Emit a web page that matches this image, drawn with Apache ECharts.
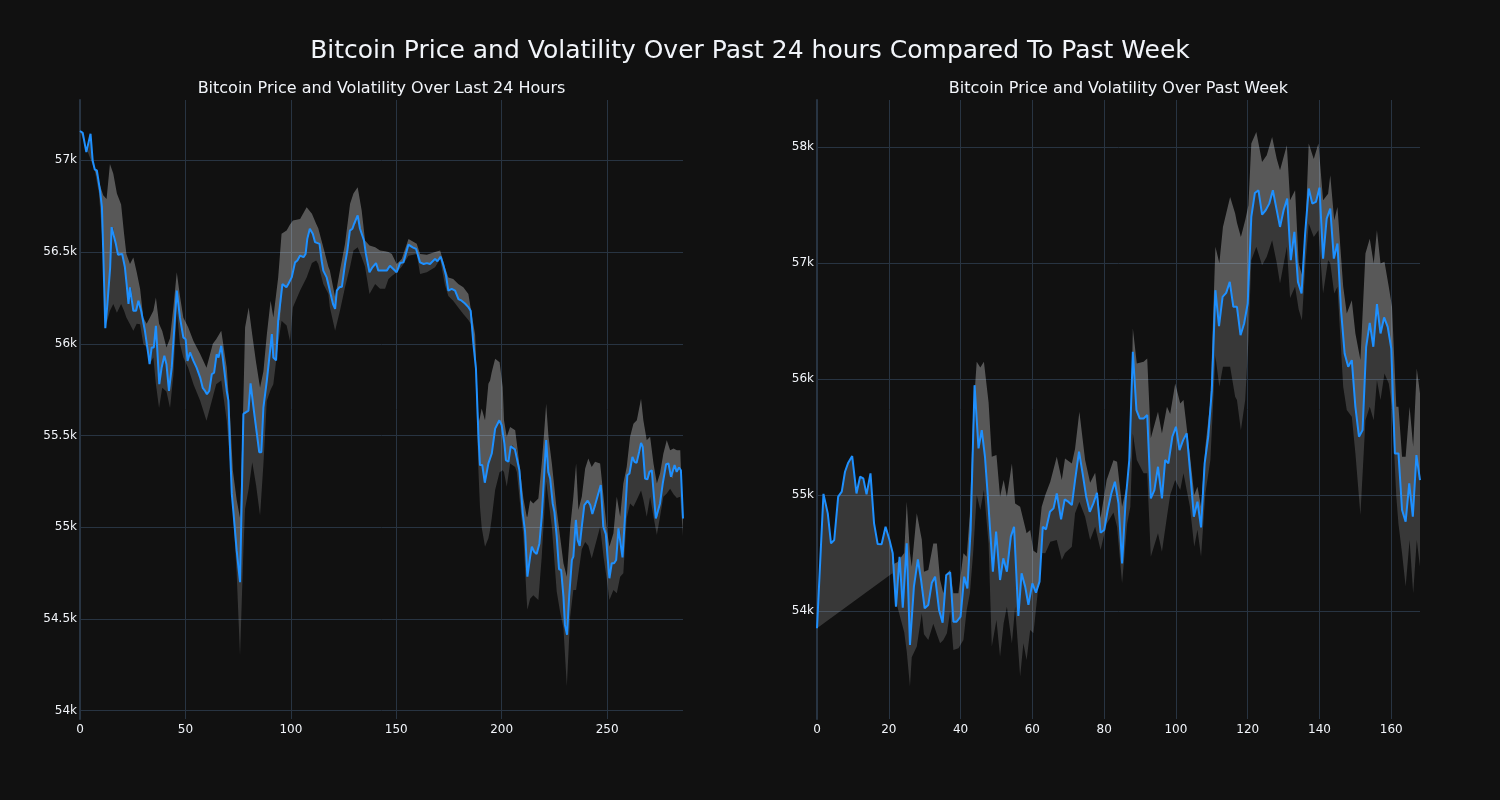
<!DOCTYPE html>
<html>
<head>
<meta charset="utf-8">
<script src="https://cdn.jsdelivr.net/npm/echarts@6/dist/echarts.min.js"></script>
<style>
html,body{margin:0;padding:0;background:#111111;}
#chart{width:1500px;height:800px;}
</style>
</head>
<body>
<div id="chart"></div>
<script>
const mainTitle = "Bitcoin Price and Volatility Over Past 24 hours Compared To Past Week";
const subTitles = ["Bitcoin Price and Volatility Over Last 24 Hours", "Bitcoin Price and Volatility Over Past Week"];

// ---- Last 24 hours (5-minute steps) ----
const priceX24 = [0,1.3,3,3.8,5,6,7,8,9.5,10.4,11,12,13,14.3,15,15.8,17,18,20,21.3,22.1,23,23.7,24.5,25.3,26.6,27.7,29,30.8,32.4,33,34,35,36,37.6,38.7,40,41,42.2,43.5,45.9,47.4,49,50.1,51,52.2,53,53.8,55.3,57,58.2,59.3,60.2,61.3,62.5,63.6,64.8,65.7,67,67.9,69.6,70.4,71.2,72,72.7,74.3,75.9,76.7,77.5,78.3,79.9,80.9,82.5,84,85,86,87,88.6,91,91.7,93,94,94.9,96,97.9,98.8,100.4,102,103.1,104.4,106,107,107.8,109,110.4,111.5,113.6,114.6,115.4,117,118.3,119.1,120,121,121.8,123,124.2,125.7,126.8,128,129.2,130,130.8,131.7,132.8,134.7,135.6,137.3,138.7,140.4,141.5,142.3,143.9,145.5,147,148.6,150.2,151.8,153.4,155.8,157.8,159.4,161.3,163,164.5,166,168.4,169.5,171.1,172.4,173.6,174.7,176.3,177.9,179.5,181,182.6,184.2,185.3,186.6,187.8,189,189.7,190.8,192,193.7,195.3,196.9,197.7,198.9,200,201.3,202,203.2,204.3,205.2,206.3,207.1,208.4,210,211.1,212.2,213.5,214.3,215.4,216.6,217.9,219,220.1,221.1,222.1,223,224.2,225,226.1,227.2,228.2,229.3,230,231,232,233.3,234,235.2,236,237,238,239.2,240.8,242,243,244.3,245.4,247,248.2,249.4,250.2,251.1,252.2,253.3,254.3,255.4,256.2,257.3,258.5,259.6,260.6,262,263,264,265.2,266.1,266.9,268,269.1,270.1,271.2,272.3,273.1,274,275.1,276.4,278,279.1,280.3,281.1,282,283,284.1,285,286];
const price24 = [57160,57150,57045,57050,57145,57000,56950,56945,56835,56745,56510,56085,56217,56417,56636,56630,56545,56486,56490,56417,56326,56217,56308,56300,56180,56180,56235,56180,56071,55943,55889,55980,55980,56098,55780,55870,55935,55889,55743,55870,56290,56144,56035,56025,55907,55953,55944,55907,55870,55816,55760,55743,55725,55743,55834,55843,55943,55925,55989,55907,55743,55690,55418,55182,55092,54874,54701,55146,55618,55618,55636,55785,55633,55500,55409,55409,55654,55798,56053,55925,55910,56126,56130,56326,56308,56326,56362,56444,56454,56481,56472,56490,56572,56627,56600,56554,56545,56454,56399,56362,56300,56290,56217,56190,56290,56308,56311,56435,56508,56617,56627,56654,56654,56700,56627,56563,56490,56390,56417,56440,56399,56400,56399,56399,56426,56408,56390,56440,56444,56541,56526,56517,56444,56435,56440,56435,56463,56450,56475,56426,56372,56290,56299,56290,56244,56235,56220,56200,56180,55998,55864,55493,55339,55339,55243,55348,55402,55538,55547,55583,55556,55456,55366,55357,55442,55447,55424,55424,55311,55076,54976,54731,54840,54894,54867,54854,54912,55058,55275,55475,55302,55266,55130,55085,54949,54771,54767,54622,54468,54414,54622,54822,54840,55040,54931,54898,55003,55121,55145,55121,55072,55121,55166,55230,55003,54963,54840,54722,54804,54804,54822,54994,54985,54836,55058,55284,55293,55384,55357,55351,55411,55460,55438,55266,55261,55302,55311,55157,55048,55058,55130,55239,55344,55348,55275,55266,55339,55302,55326,55311,55048];
const bandX24 = [7,9,11,12.6,14.2,15.8,17.5,19.5,20.9,22,23.7,25.3,26.9,28.5,30,31.6,33,34.8,36,37.5,39,41,42.7,44.3,45.9,47.4,49,51.3,53.8,57,60,63,64.6,67,69.6,71.2,72.5,74.3,75.9,77.5,78.3,80,81.7,83.5,85.4,87,88.6,90.4,91.7,94,95.6,98,99.6,101,104.4,107.5,110,112,113,115.4,117.8,118.5,121,123.3,125.7,128.1,129.7,131.7,133.6,135.2,137.3,140,142.3,144.7,146.3,147.9,150.2,152.6,155.8,159.7,161.3,164.5,168.4,170.8,173.1,174.7,177,179.4,181.8,184.2,185.5,187.4,189,189.7,190.5,192.1,193.7,194.5,195.3,196.9,199,200.5,201.1,202.4,204,206.4,207.2,208.7,210.3,211.9,212.2,213.5,215,217.4,219,220.1,221.1,222.2,223.8,226.1,227.7,229.3,230.9,232.5,234,235.3,236.4,238,239.6,241.1,242.7,244.3,246.7,248.3,249.9,251.1,253,254.6,256.2,257.7,259.3,260.9,262.5,264.1,266.1,267.2,268.8,270.4,272,273.6,275.1,276.7,278.3,279.9,281.5,283.1,284.7,286];
const upper24 = [56950,56880,56810,56790,56980,56927,56820,56760,56600,56490,56435,56470,56390,56300,56144,56110,56140,56180,56253,56110,56070,55980,56030,56200,56390,56260,56144,56090,56016,55944,55870,56000,56025,56071,55870,55600,55310,55150,55050,55700,56089,56198,56050,55900,55760,55850,56050,56235,56144,56362,56600,56617,56650,56672,56681,56745,56709,56654,56630,56526,56420,56399,56254,56399,56545,56763,56820,56854,56727,56563,56536,56527,56508,56504,56500,56490,56435,56463,56572,56545,56490,56486,56500,56508,56417,56362,56353,56326,56308,56271,56180,56050,55570,55600,55647,55584,55783,55800,55847,55919,55900,55764,55583,55493,55547,55529,55457,55311,55157,55058,55058,55148,55130,55157,55348,55511,55674,55493,55348,55094,54949,54804,54731,55000,55166,55348,55094,55166,55320,55375,55329,55357,55348,55166,54985,54894,54967,55166,55058,55239,55329,55493,55565,55584,55701,55584,55475,55493,55348,55239,55293,55402,55475,55420,55429,55420,55420,54985];
const lower24 = [56945,56820,56500,56110,56180,56217,56170,56217,56180,56144,56107,56071,56110,56107,56000,55980,55889,55925,55780,55650,55760,55740,55650,55830,56180,56000,55925,55870,55780,55690,55580,55710,55780,55800,55580,55350,55100,54750,54300,54874,55101,55210,55355,55230,55064,55345,55690,55750,55780,56000,56126,56100,56016,56200,56290,56362,56440,56454,56435,56326,56271,56200,56071,56180,56308,56420,56508,56526,56472,56420,56271,56326,56300,56300,56353,56370,56390,56420,56480,56490,56381,56390,56417,56463,56320,56260,56235,56198,56162,56130,56107,55900,55300,55112,55000,54894,54940,54985,55050,55203,55300,55311,55300,55221,55348,55329,55300,55130,54949,54600,54550,54610,54630,54604,54840,55058,55250,55150,55000,54650,54540,54450,54133,54514,54658,54658,54750,54880,54920,54900,54830,54900,55003,54840,54713,54604,54658,54640,54731,54750,55050,55130,55112,55150,55200,55150,55058,55166,55058,54958,55058,55166,55184,55210,55180,55160,55166,54949];

// ---- Past week (hourly steps) ----
const priceX7d = [0,1.8,3,3.9,4.8,5.9,6.9,7.8,8.7,9.8,11,12,12.9,13.8,14.9,15.9,16.9,18,19.1,20.2,21.1,22,23,23.9,25,25.9,27,28.1,29,30,31,32,32.9,34,35,36,37.1,38,38.9,40,41,41.9,42.8,43.9,45,45.9,46.8,47.8,49,49.9,51,51.9,52.9,54,54.9,56.1,57,58,58.9,60,61,62,62.9,63.8,64.9,65.9,66.8,68,69,70,71,71.9,73,74,75,76,77,78,79,80,81,82,83,84,85,86,87,88,89,89.9,91,92,93,94,95,96.1,97,97.9,99,100,101,102,103,104,105,106,107,108,109,110,111,112,113,114,115,116,117,118,119,120,121,122,123,124,125,126,127,128,129,130,131,132,133,134,135,136,137,138,139,140,141,142,143,144,145,146,147,148,149,150,151,152,153,154,155,156,157,158,159,160,161,162,163,164,165,166,167,168];
const price7d = [53851,55010,54842,54583,54612,54986,55029,55201,55279,55336,55014,55158,55144,55006,55187,54756,54578,54575,54727,54612,54497,54037,54468,54029,54583,53707,54210,54445,54267,54023,54052,54244,54296,54009,53899,54310,54333,53908,53908,53951,54296,54195,54700,55948,55402,55560,55330,54899,54339,54684,54267,54454,54339,54641,54727,53957,54325,54210,54052,54238,54158,54253,54727,54704,54856,54885,55014,54790,54963,54943,54914,55129,55374,55187,54986,54856,54928,55020,54675,54698,54871,55014,55115,54928,54411,54957,55302,56236,55733,55661,55661,55690,54971,55043,55244,54971,55302,55273,55503,55589,55388,55474,55532,55187,54813,54943,54721,55273,55503,55905,56767,56457,56710,56744,56839,56624,56624,56379,56480,56652,57399,57606,57629,57420,57457,57514,57629,57471,57313,57457,57557,57026,57270,56839,56739,57256,57644,57514,57529,57652,57040,57385,57471,57040,57170,56595,56221,56106,56164,55761,55503,55560,56279,56486,56279,56647,56394,56532,56451,56264,55359,55359,54871,54770,55101,54813,55345,55129];
const bandX7d = [21,22.4,24.3,25,25.9,26.4,27.8,29.2,29.8,31,32.4,33.4,34.3,35.2,36.2,37.1,38,39.4,40.8,41.7,42.6,43.5,44.5,45.5,46.5,47.8,48.7,50,51,52,52.9,54.3,55.2,56.6,57.5,58.4,59.4,60.3,61.3,62.6,63.6,65,66.8,68.2,69.1,71,71.9,73.1,74.7,76.1,77.5,79,80.7,82.6,83.6,85,86.4,87.3,88,89.1,91,92,93,95,96.1,97.5,98.4,99.8,101.2,102.1,103.9,105.1,106,107,108.2,109.6,111,112.1,113.1,115.1,116.5,117,118.1,119.3,120.2,121,122.4,124,125.3,126.8,128.1,129,130.9,131.8,133.2,134.2,135.1,136.1,137,138.4,139.7,141,142.4,143,144.1,145,146.6,147.6,149,150,151.4,152.8,154,155.1,156,157,158.1,159.3,160.2,161.4,162,163,164,165.1,166.1,167.1,168];
const upper7d = [54400,54420,54500,54943,54500,54382,54842,54615,54339,54353,54583,54583,54267,54152,54325,54353,54152,54152,54497,54468,54842,55700,56150,56100,56150,55800,55330,55345,54986,55129,54986,55273,54928,54899,54785,54670,54698,54520,54497,54900,55000,55115,55330,55129,55316,55273,55400,55718,55302,55106,55193,54800,55129,55300,55287,54900,55100,55330,56437,56135,56150,56178,55489,55718,55532,55761,55700,55963,55790,55819,55345,55000,55072,54900,55417,55805,57141,57000,57313,57572,57428,57350,57227,57371,57500,58032,58132,57874,57931,58089,57900,57802,58017,57543,57629,57000,56900,57300,58032,57900,58032,57543,57600,57759,57371,57486,56800,56566,56681,56394,56164,57084,57212,56997,57284,56997,57012,56796,56624,55761,55761,55330,55330,55761,55417,56092,55876];
const lower7d = [54325,54037,53816,53650,53348,53600,53693,53980,53800,53750,53890,53800,53721,53750,53808,54000,53664,53678,53750,54009,54152,54497,55000,54871,55043,54583,53693,53921,53606,53893,54037,53720,54037,53434,53721,53578,53836,53807,54100,54500,54497,54598,54612,54440,54500,54555,54842,54943,54813,54612,54727,54526,54750,54850,54727,54239,54750,54900,55532,55302,55187,55187,54468,54670,54511,54813,55000,55129,55043,55187,54900,54555,54700,54468,55014,55302,56200,55934,56106,56106,55848,55819,55560,55819,56336,57026,57141,56983,57055,57198,57000,56825,57141,56700,56796,56600,56509,57000,57342,57227,57284,56739,57026,57000,56739,56796,55934,55733,55675,55360,54828,55646,55761,55646,55991,55819,56049,55963,55761,54986,54750,54497,54210,54612,54152,54612,54382];

// ---- axes ----
const xMax = [286, 168];
const xInterval = [50, 20];
const yMin = [53955, 53068];
const yMax = [57329, 58408];

const zip = (xs, ys) => xs.map((x, i) => [x, ys[i]]);

const panels = [
  { price: zip(priceX24, price24), upper: zip(bandX24, upper24), lower: zip(bandX24, lower24) },
  { price: zip(priceX7d, price7d), upper: zip(bandX7d, upper7d), lower: zip(bandX7d, lower7d) }
];

const TEXT = '#f2f5fa';
const GRID = '#283442';
const FONT = '"DejaVu Sans", Verdana, sans-serif';
const gridPos = [{ left: 80, top: 100, width: 603, height: 619 }, { left: 817, top: 100, width: 603, height: 619 }];

const xAxes = [], yAxes = [], series = [];
panels.forEach((p, g) => {
  xAxes.push({
    type: 'value', gridIndex: g, min: 0, max: xMax[g], interval: xInterval[g],
    axisLine: { show: false }, axisTick: { show: false },
    axisLabel: { color: TEXT, fontSize: 12, fontFamily: FONT, margin: 5, showMaxLabel: false },
    splitLine: { show: true, showMinLine: false, showMaxLine: false, lineStyle: { color: GRID, width: 1 } }
  });
  yAxes.push({
    type: 'value', gridIndex: g, min: yMin[g], max: yMax[g], splitNumber: 6,
    axisLine: { show: true, lineStyle: { color: GRID, width: 2 } }, axisTick: { show: false },
    axisLabel: { color: TEXT, fontSize: 12, fontFamily: FONT, margin: 3, showMinLabel: false, showMaxLabel: false,
      formatter: v => (v / 1000) + 'k' },
    splitLine: { show: true, showMinLine: false, showMaxLine: false, lineStyle: { color: GRID, width: 1 } }
  });
  const x0 = p.upper[0][0];
  const lightPoly = p.upper.concat(p.price.filter(q => q[0] >= x0).reverse());
  const darkPoly = p.price.concat(p.lower.slice().reverse());
  [[darkPoly, 'rgba(255,255,255,0.165)'], [lightPoly, 'rgba(255,255,255,0.3)']].forEach(([poly, col]) => {
    series.push({
      type: 'custom', xAxisIndex: g, yAxisIndex: g, silent: true, z: 1,
      data: [p.upper[0]],
      renderItem: (params, api) => ({
        type: 'polygon',
        shape: { points: poly.map(q => api.coord(q)) },
        style: { fill: col }
      })
    });
  });
  series.push({
    type: 'line', xAxisIndex: g, yAxisIndex: g, data: p.price, z: 3,
    symbol: 'none', lineStyle: { color: '#1e90ff', width: 2 }, itemStyle: { color: '#1e90ff' }
  });
});

const chart = echarts.init(document.getElementById('chart'), null, { renderer: 'canvas' });
chart.setOption({
  backgroundColor: '#111111',
  animation: false,
  grid: gridPos,
  xAxis: xAxes,
  yAxis: yAxes,
  series: series,
  graphic: [
    { type: 'text', x: 750, y: 51, style: { text: mainTitle, fill: TEXT, font: '25px ' + FONT, align: 'center', verticalAlign: 'middle' } },
    { type: 'text', x: 381.5, y: 89, style: { text: subTitles[0], fill: TEXT, font: '16px ' + FONT, align: 'center', verticalAlign: 'middle' } },
    { type: 'text', x: 1118.5, y: 89, style: { text: subTitles[1], fill: TEXT, font: '16px ' + FONT, align: 'center', verticalAlign: 'middle' } }
  ]
});
</script>
</body>
</html>
